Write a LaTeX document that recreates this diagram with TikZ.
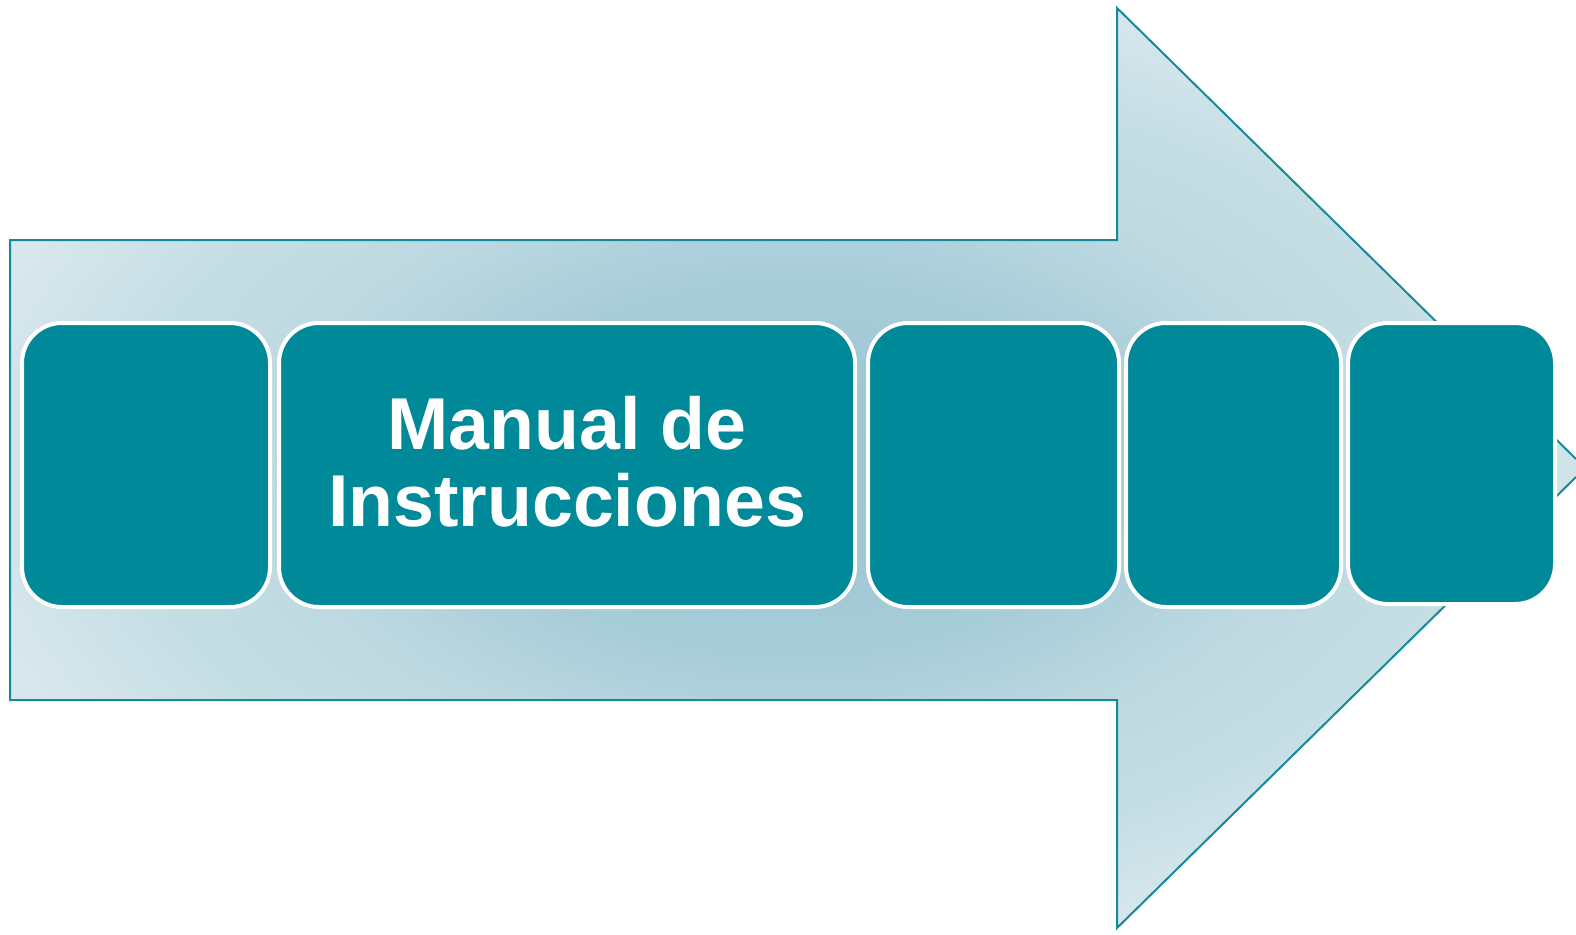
\documentclass[tikz,border=0pt]{standalone}
\usepackage{fontspec}
\setmainfont{Liberation Sans}
\definecolor{arrowline}{RGB}{22,138,154}
\definecolor{boxfill}{RGB}{0,137,153}
\definecolor{shA}{HTML}{9AC4D0}
\definecolor{shB}{HTML}{A6CCD8}
\definecolor{shC}{HTML}{BCD8E0}
\definecolor{shD}{HTML}{C6DFE5}
\definecolor{shE}{HTML}{D8E7ED}
\definecolor{shF}{HTML}{E2EDF1}
\pgfdeclareradialshading{arrowshade}{\pgfpoint{0bp}{0bp}}{color(0bp)=(shA); color(10bp)=(shB); color(16bp)=(shC); color(22bp)=(shD); color(27bp)=(shE); color(36bp)=(shF); color(50bp)=(shF)}
\begin{document}
\begin{tikzpicture}[x=1bp,y=-1bp,
  stepbox/.style={fill=boxfill, draw=white, line width=4bp, rounded corners=40bp},
  lbl/.style={text=white, font=\fontsize{73.5bp}{77bp}\selectfont\bfseries, inner sep=0pt, anchor=base}]
\useasboundingbox (0,0) rectangle (1576,934);
\coordinate (a1) at (10,240);
\coordinate (a2) at (1117,240);
\coordinate (a3) at (1117,8);
\coordinate (a4) at (1576,459);
\coordinate (a5) at (1576,477);
\coordinate (a6) at (1117,928);
\coordinate (a7) at (1117,700);
\coordinate (a8) at (10,700);
\path[shading=arrowshade] (a1) -- (a2) -- (a3) -- (a4) -- (a5) -- (a6) -- (a7) -- (a8) -- cycle;
\begin{scope}
\clip (0,0) rectangle (1576,934);
\draw[arrowline, line width=2bp, line join=miter] (a4) -- (a3) -- (a2) -- (a1) -- (a8) -- (a7) -- (a6) -- (a5);
\end{scope}
\draw[stepbox] (22,323) rectangle (270,607);
\draw[stepbox] (279,323) rectangle (855,607);
\draw[stepbox] (868,323) rectangle (1119,607);
\draw[stepbox] (1126,323) rectangle (1341,607);
\draw[stepbox] (1348,323) rectangle (1555,604);
\node[lbl] (t1) at (567,449) {Manual de};
\node[lbl] (t2) at (567,526) {Instrucciones};
\end{tikzpicture}
\end{document}
